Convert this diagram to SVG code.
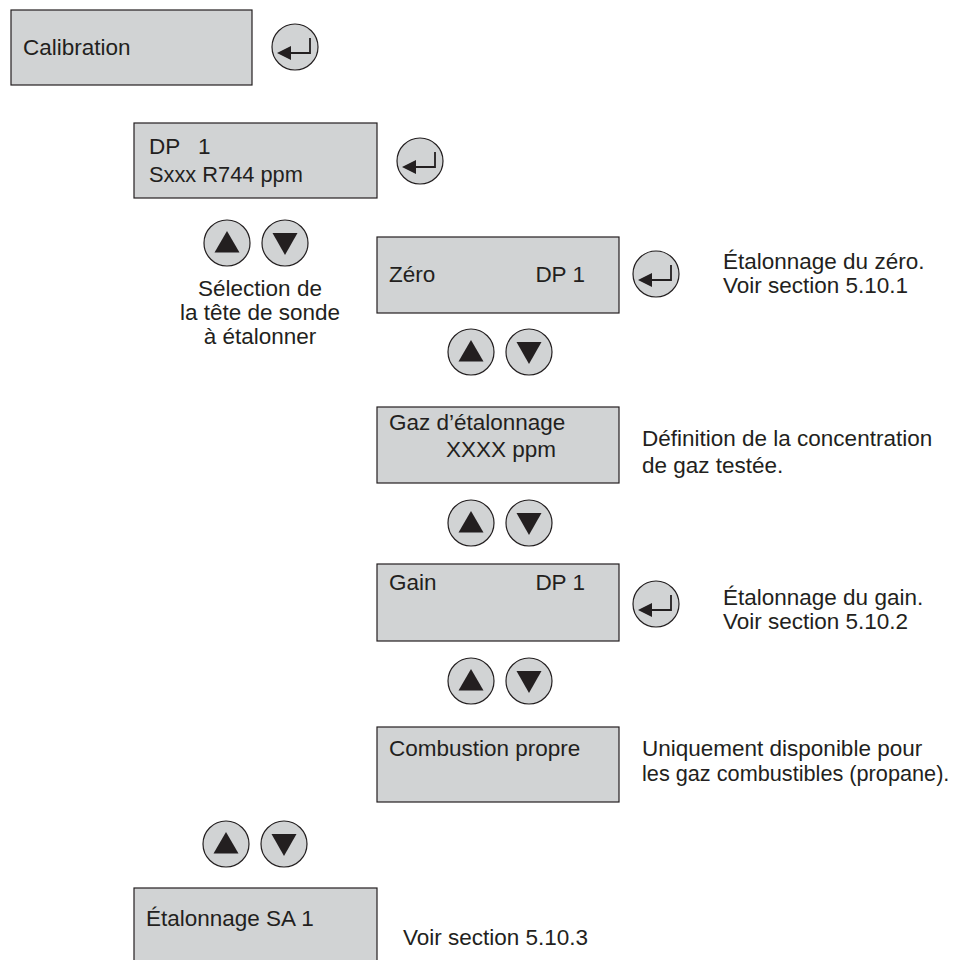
<svg xmlns="http://www.w3.org/2000/svg" xmlns:xlink="http://www.w3.org/1999/xlink" width="958" height="960" viewBox="0 0 958 960">
<style>
.box{fill:#d1d3d4;stroke:#231f20;stroke-width:1.2}
text{font-family:"Liberation Sans",Arial,sans-serif;font-size:22.5px;fill:#231f20}
.c{text-anchor:middle}
.e{text-anchor:end}
.s{font-size:21.7px}
.btn{fill:#d1d3d4;stroke:#231f20;stroke-width:1.2}
</style>
<defs>
<g id="enter">
<circle class="btn" r="23"/>
<path d="M-4 6H15V-9" fill="none" stroke="#231f20" stroke-width="1.8"/>
<polygon points="-18,6 -4,-1 -4,13" fill="#231f20"/>
</g>
<g id="up">
<circle class="btn" r="23"/>
<polygon points="0,-12 12.5,9.5 -12.5,9.5" fill="#231f20"/>
</g>
<g id="down">
<circle class="btn" r="23"/>
<polygon points="-12.5,-10 12.5,-10 0,12" fill="#231f20"/>
</g>
</defs>
<rect width="958" height="960" fill="#ffffff"/>

<g id="calibration">
<rect class="box" x="11" y="10" width="241" height="75"/>
<text x="23" y="55">Calibration</text>
<use xlink:href="#enter" x="295" y="47"/>
</g>

<g id="dp1">
<rect class="box" x="134" y="123" width="243" height="75"/>
<text x="149" y="154">DP<tspan x="198">1</tspan></text>
<text x="149" y="182" style="font-size:21.8px">Sxxx R744 ppm</text>
<use xlink:href="#enter" x="420" y="161"/>
</g>

<g id="selection">
<use xlink:href="#up" x="227" y="243"/>
<use xlink:href="#down" x="285" y="243"/>
<text class="c" x="260" y="296">Sélection de</text>
<text class="c" x="260" y="320">la tête de sonde</text>
<text class="c" x="260" y="344">à étalonner</text>
</g>

<g id="zero">
<rect class="box" x="377" y="237" width="242" height="76"/>
<text x="389" y="282">Zéro</text>
<text class="e" x="585" y="282">DP 1</text>
<use xlink:href="#enter" x="656" y="274"/>
<text x="723" y="269">Étalonnage du zéro.</text>
<text x="723" y="293">Voir section 5.10.1</text>
<use xlink:href="#up" x="471" y="352"/>
<use xlink:href="#down" x="529" y="352"/>
</g>

<g id="gaz">
<rect class="box" x="377" y="407" width="242" height="76"/>
<text x="389" y="430">Gaz d’étalonnage</text>
<text x="446" y="457">XXXX ppm</text>
<text x="642" y="446">Définition de la concentration</text>
<text x="642" y="473">de gaz testée.</text>
<use xlink:href="#up" x="471" y="523"/>
<use xlink:href="#down" x="529" y="523"/>
</g>

<g id="gain">
<rect class="box" x="377" y="564" width="242" height="77"/>
<text x="389" y="590">Gain</text>
<text class="e" x="585" y="590">DP 1</text>
<use xlink:href="#enter" x="656" y="604"/>
<text x="723" y="605">Étalonnage du gain.</text>
<text x="723" y="629">Voir section 5.10.2</text>
<use xlink:href="#up" x="471" y="681"/>
<use xlink:href="#down" x="529" y="681"/>
</g>

<g id="combustion">
<rect class="box" x="377" y="727" width="242" height="75"/>
<text x="389" y="756">Combustion propre</text>
<text x="642" y="756">Uniquement disponible pour</text>
<text class="s" x="642" y="781">les gaz combustibles (propane).</text>
</g>

<g id="sa1-nav">
<use xlink:href="#up" x="226" y="844"/>
<use xlink:href="#down" x="284" y="844"/>
</g>

<g id="sa1">
<rect class="box" x="134" y="888" width="243" height="80"/>
<text x="146" y="926">Étalonnage SA 1</text>
<text x="403" y="945">Voir section 5.10.3</text>
</g>

<g id="connectors"/>
</svg>
